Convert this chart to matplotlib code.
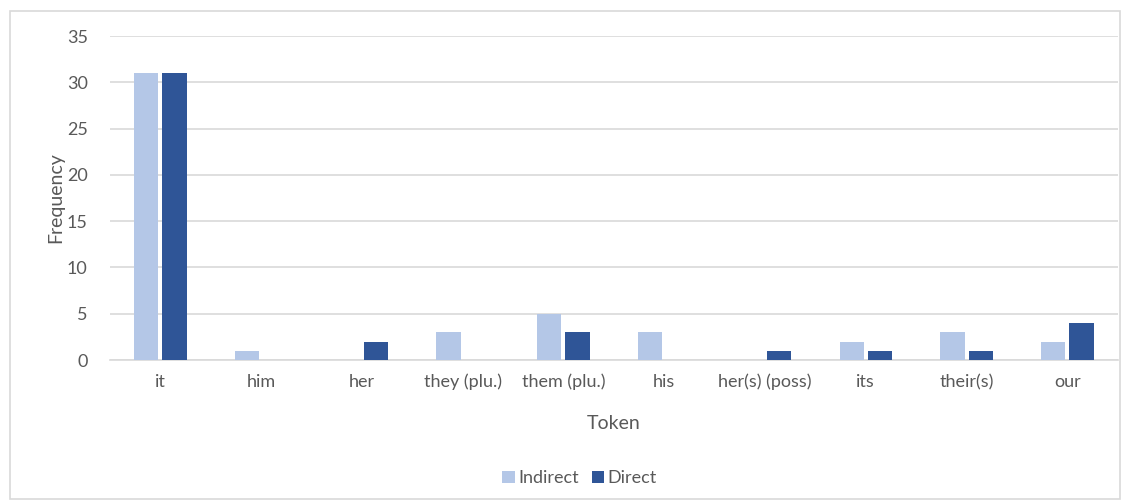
import numpy as np
import matplotlib.pyplot as plt
from matplotlib.patches import Rectangle

# data
tokens = ["it", "him", "her", "they (plu.)", "them (plu.)", "his",
          "her(s) (poss)", "its", "their(s)", "our"]
indirect = [31, 1, 0, 3, 5, 3, 0, 2, 3, 2]
direct = [31, 0, 2, 0, 3, 0, 1, 1, 1, 4]

light = "#B4C7E7"
dark = "#2F5597"
grey = "#595959"

plt.rcParams["font.family"] = ["Lato", "DejaVu Sans"]

fig = plt.figure(figsize=(11.29, 5.01), dpi=100)
ax = fig.add_axes([0.0974, 0.2814, 0.8926, 0.6466])

x = np.arange(len(tokens))
w = 0.24
ax.bar(x - 0.14, indirect, w, color=light, label="Indirect", zorder=3)
ax.bar(x + 0.14, direct, w, color=dark, label="Direct", zorder=3)

ax.set_xlim(-0.5, len(tokens) - 0.5)
ax.set_ylim(0, 35)
ax.set_yticks(range(0, 36, 5))
ax.set_xticks(x)
ax.set_xticklabels(tokens)
ax.yaxis.grid(True, color="#D9D9D9", linewidth=1.2, zorder=0)
for s in ["top", "right", "left"]:
    ax.spines[s].set_visible(False)
ax.spines["bottom"].set_color("#D9D9D9")
ax.spines["bottom"].set_linewidth(1.2)
ax.tick_params(axis="both", length=0, labelsize=13, colors=grey, pad=10)
ax.tick_params(axis="y", pad=16)

ax.set_xlabel("Token", fontsize=14, color=grey, labelpad=18)
ax.set_ylabel("Frequency", fontsize=14, color=grey, labelpad=2)

ax.legend(loc="upper center", bbox_to_anchor=(0.466, -0.29), ncol=2, frameon=False,
          fontsize=13, labelcolor=grey, handlelength=0.7, handleheight=0.7,
          handletextpad=0.2, columnspacing=0.7)

fig.patches.append(Rectangle((10 / 1129, 2 / 501), 1110 / 1129, 488 / 501,
                             transform=fig.transFigure, fill=False,
                             edgecolor="#D9D9D9", linewidth=1.2))

plt.savefig("out.png", dpi=100)
